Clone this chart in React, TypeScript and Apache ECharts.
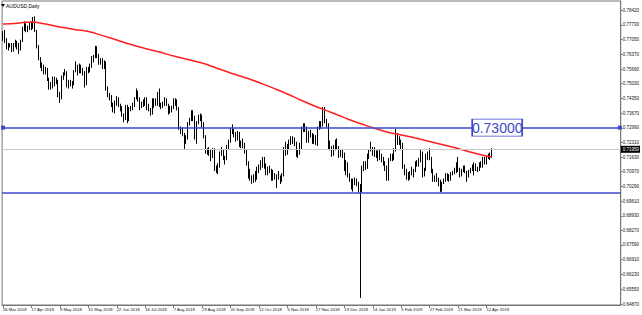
import React, { useEffect, useRef } from "react";
import * as echarts from "echarts";

// ---- data (prices in pips x 1e-4) ----
const opens = [
  7710,7738,7700,7668,7680,7678,7660,7680,7690,7675,
  7660,7700,7755,7770,7750,7755,7775,7765,7790,7745,
  7670,7615,7585,7575,7555,7565,7525,7485,7495,7525,
  7515,7510,7450,7435,7530,7545,7555,7490,7510,7505,
  7500,7560,7580,7560,7585,7560,7550,7500,7570,7565,
  7580,7620,7625,7665,7630,7595,7605,7580,7590,7480,
  7445,7440,7405,7375,7420,7435,7405,7390,7355,7340,
  7400,7335,7385,7392,7403,7435,7460,7425,7400,7410,
  7405,7430,7388,7380,7365,7430,7410,7410,7460,7400,
  7397,7410,7428,7405,7375,7394,7390,7420,7420,7390,
  7293,7285,7270,7235,7250,7320,7340,7370,7340,7255,
  7320,7350,7340,7320,7255,7190,7187,7180,7190,7200,
  7105,7110,7120,7183,7197,7160,7155,7215,7237,7293,
  7290,7265,7245,7273,7215,7227,7225,7190,7135,7085,
  7070,7060,7065,7080,7110,7125,7140,7160,7120,7090,
  7110,7100,7090,7070,7075,7075,7065,7060,7080,7200,
  7180,7215,7240,7255,7240,7230,7170,7180,7210,7300,
  7310,7300,7235,7280,7265,7235,7260,7225,7300,7320,
  7310,7360,7330,7315,7210,7207,7175,7202,7235,7210,
  7170,7195,7175,7110,7130,7085,7058,7020,7055,7050,
  7045,7015,7005,7115,7130,7118,7175,7195,7205,7195,
  7180,7180,7160,7170,7155,7135,7120,7060,7155,7170,
  7165,7195,7270,7240,7240,7225,7125,7100,7090,7065,
  7095,7090,7100,7140,7140,7150,7175,7090,7105,7175,
  7180,7160,7100,7055,7060,7065,7045,7010,7045,7055,
  7065,7075,7065,7085,7095,7110,7135,7100,7080,7105,
  7115,7095,7080,7100,7110,7125,7130,7110,7105,7130,
  7120,7150,7135,7165,7170,7165,
];
const closes = [
  7738,7700,7668,7680,7678,7660,7680,7690,7675,7660,
  7700,7755,7770,7750,7755,7775,7765,7790,7745,7670,
  7615,7585,7575,7555,7565,7525,7485,7495,7525,7515,
  7510,7450,7435,7530,7545,7555,7490,7510,7505,7500,
  7560,7580,7560,7585,7560,7550,7500,7570,7565,7580,
  7620,7625,7665,7630,7595,7605,7580,7590,7480,7445,
  7440,7405,7375,7420,7435,7405,7390,7355,7340,7400,
  7335,7385,7392,7403,7435,7460,7425,7400,7410,7405,
  7430,7388,7380,7365,7430,7410,7410,7460,7400,7397,
  7410,7428,7405,7375,7394,7390,7420,7420,7390,7293,
  7285,7270,7235,7250,7320,7340,7370,7340,7255,7320,
  7350,7340,7320,7255,7190,7187,7180,7190,7200,7105,
  7110,7120,7183,7197,7160,7155,7215,7237,7293,7290,
  7265,7245,7273,7215,7227,7225,7190,7135,7085,7070,
  7060,7065,7080,7110,7125,7140,7160,7120,7090,7110,
  7100,7090,7070,7075,7075,7065,7060,7080,7200,7180,
  7215,7240,7255,7240,7230,7170,7180,7210,7300,7310,
  7300,7235,7280,7265,7235,7260,7225,7300,7320,7310,
  7360,7330,7315,7210,7207,7175,7202,7235,7210,7170,
  7195,7175,7110,7130,7085,7058,7020,7055,7050,7045,
  7015,7005,7115,7130,7118,7175,7195,7205,7195,7180,
  7180,7160,7170,7155,7135,7120,7060,7155,7170,7165,
  7195,7270,7240,7240,7225,7125,7100,7090,7065,7095,
  7090,7100,7140,7140,7150,7175,7090,7105,7175,7180,
  7160,7100,7055,7060,7065,7045,7010,7045,7055,7065,
  7075,7065,7085,7095,7110,7135,7100,7080,7105,7115,
  7095,7080,7100,7110,7125,7130,7110,7105,7130,7120,
  7150,7135,7165,7170,7165,7195,
];
const highs = [
  7745,7750,7712,7690,7688,7690,7690,7705,7700,7690,
  7705,7765,7790,7780,7770,7785,7790,7810,7813,7750,
  7680,7625,7600,7590,7580,7575,7530,7510,7535,7535,
  7530,7520,7465,7540,7555,7570,7560,7520,7520,7515,
  7565,7605,7590,7595,7590,7575,7560,7580,7580,7595,
  7630,7635,7677,7675,7640,7620,7620,7610,7605,7490,
  7460,7450,7415,7425,7445,7440,7410,7400,7365,7405,
  7405,7395,7400,7415,7440,7480,7470,7440,7420,7430,
  7440,7440,7410,7390,7435,7435,7435,7465,7480,7415,
  7420,7440,7435,7410,7400,7400,7435,7435,7430,7395,
  7305,7300,7275,7265,7325,7345,7380,7380,7355,7330,
  7360,7365,7360,7325,7265,7205,7210,7200,7205,7205,
  7125,7135,7190,7210,7200,7170,7220,7245,7300,7315,
  7295,7280,7285,7280,7240,7250,7230,7200,7145,7110,
  7080,7085,7100,7120,7130,7150,7165,7165,7135,7120,
  7125,7110,7105,7090,7085,7100,7080,7090,7210,7235,
  7225,7245,7260,7260,7255,7235,7200,7230,7305,7320,
  7320,7305,7285,7290,7275,7270,7265,7305,7330,7330,
  7395,7395,7340,7320,7240,7215,7220,7245,7250,7215,
  7200,7200,7185,7150,7140,7090,7065,7065,7070,7065,
  7050,7040,7125,7145,7145,7180,7200,7235,7210,7210,
  7195,7195,7200,7180,7165,7145,7125,7160,7180,7180,
  7205,7295,7275,7260,7245,7230,7130,7110,7095,7100,
  7120,7110,7145,7150,7160,7200,7190,7115,7180,7190,
  7205,7165,7110,7080,7090,7070,7060,7050,7065,7090,
  7090,7085,7095,7100,7115,7140,7165,7115,7110,7125,
  7125,7100,7105,7115,7130,7140,7135,7120,7140,7145,
  7165,7165,7170,7180,7185,7205,
];
const lows = [
  7700,7690,7660,7655,7670,7648,7650,7670,7660,7640,
  7655,7695,7745,7740,7740,7750,7750,7755,7740,7665,
  7610,7575,7560,7545,7545,7515,7475,7475,7480,7490,
  7500,7440,7413,7430,7520,7540,7485,7480,7490,7480,
  7495,7555,7540,7550,7550,7540,7485,7495,7550,7555,
  7575,7600,7620,7620,7590,7590,7570,7570,7470,7440,
  7425,7395,7370,7365,7400,7395,7375,7350,7325,7335,
  7320,7330,7375,7380,7395,7430,7420,7380,7390,7395,
  7400,7380,7375,7355,7360,7390,7400,7400,7395,7385,
  7390,7400,7400,7360,7365,7370,7385,7400,7380,7290,
  7270,7260,7202,7225,7245,7310,7330,7330,7245,7225,
  7315,7330,7300,7250,7180,7175,7170,7145,7160,7100,
  7090,7085,7115,7170,7150,7130,7150,7200,7230,7270,
  7255,7235,7240,7210,7205,7205,7180,7125,7065,7055,
  7041,7045,7050,7060,7090,7105,7115,7110,7080,7080,
  7090,7055,7055,7060,7021,7060,7040,7050,7075,7170,
  7175,7200,7220,7225,7215,7165,7160,7175,7200,7280,
  7280,7230,7230,7255,7225,7225,7220,7215,7290,7295,
  7305,7320,7300,7200,7195,7165,7170,7195,7200,7160,
  7165,7160,7100,7080,7070,7050,7015,7005,7035,7030,
  7000,6515,7000,7100,7105,7110,7155,7190,7170,7165,
  7160,7145,7150,7140,7125,7100,7055,7055,7145,7145,
  7150,7190,7220,7220,7200,7110,7080,7060,7055,7060,
  7080,7070,7095,7120,7120,7140,7070,7075,7100,7150,
  7150,7090,7050,7050,7050,7030,7003,7005,7040,7050,
  7055,7050,7055,7080,7085,7090,7095,7070,7075,7095,
  7090,7050,7070,7090,7100,7080,7100,7095,7100,7115,
  7115,7130,7130,7155,7150,7160,
];

// 200-period moving average, read at every 8th bar
const maIndex = [0,8,16,24,32,40,48,56,64,72,80,88,96,104,112,120,128,136,144,152,160,168,176,184,192,200,208,216,224,232,240,248,256,264,272,275];
const maValues = [0.7777,0.7781,0.7787,0.7777,0.7764,0.7752,0.7743,0.7724,0.7704,0.7683,0.7665,0.7648,0.7630,0.7614,0.7598,0.7575,0.7552,0.7531,0.7508,0.7482,0.7455,0.7425,0.7397,0.7372,0.7346,0.7321,0.7300,0.7280,0.7266,0.7252,0.7236,0.7220,0.7204,0.7185,0.7169,0.7164];

const xTickLabels = [
  "26 Mar 2018","17 Apr 2018","9 May 2018","31 May 2018","22 Jun 2018","16 Jul 2018",
  "7 Aug 2018","29 Aug 2018","20 Sep 2018","12 Oct 2018","5 Nov 2018","27 Nov 2018",
  "19 Dec 2018","14 Jan 2019","5 Feb 2019","27 Feb 2019","21 Mar 2019","12 Apr 2019",
];
const yTickValues = [
  0.7842,0.7773,0.7705,0.7637,0.7569,0.7503,0.7435,0.7367,0.7299,0.7231,0.7163,
  0.7097,0.7029,0.6961,0.6893,0.6827,0.6759,0.6691,0.6623,0.6555,0.6487,
];
const resistance = 0.73;
const support = 0.7012;

const SLOTS = 348;
const LABEL_STEP = 16;
const BLUE = "#3d48c9";

export default function App() {
  const ref = useRef<HTMLDivElement>(null);
  useEffect(() => {
    if (!ref.current) return;
    const chart = echarts.init(ref.current, null, { renderer: "svg" });
    const categories = Array.from({ length: SLOTS }, (_, i) =>
      i % LABEL_STEP === 0 && i / LABEL_STEP < xTickLabels.length ? xTickLabels[i / LABEL_STEP] : "s" + i
    );
    const isTick = (i: number) => i % LABEL_STEP === 0 && i / LABEL_STEP < xTickLabels.length;
    const candles = opens.map((o, i) => [o / 1e4, closes[i] / 1e4, lows[i] / 1e4, highs[i] / 1e4]);
    const lastClose = closes[closes.length - 1] / 1e4;
    const ma = maIndex.map((x, i) => [x, maValues[i]]);

    chart.setOption({
      animation: false,
      backgroundColor: "#ffffff",
      grid: { left: 1, right: 21, top: 1, bottom: 10, show: true, borderColor: "#777", borderWidth: 1 },
      xAxis: {
        type: "category",
        data: categories,
        boundaryGap: true,
        axisLine: { show: true, lineStyle: { color: "#777", width: 1 } },
        axisTick: { show: true, alignWithLabel: true, interval: (i: number) => isTick(i), length: 3, lineStyle: { color: "#777" } },
        axisLabel: {
          interval: (i: number) => isTick(i),
          formatter: (v: string) => (v.startsWith("s") ? "" : v),
          fontSize: 4.2,
          color: "#111",
          align: "left",
          margin: 2.5,
          showMinLabel: true,
          hideOverlap: false,
          fontFamily: "Liberation Sans",
        },
        splitLine: { show: false },
      },
      yAxis: {
        type: "value",
        position: "right",
        min: 0.64824,
        max: 0.78835,
        axisLine: { show: true, lineStyle: { color: "#777", width: 1 } },
        axisTick: { show: true, customValues: yTickValues, length: 2, lineStyle: { color: "#777" } },
        axisLabel: {
          customValues: yTickValues,
          formatter: (v: number) => v.toFixed(5),
          fontSize: 4.5,
          color: "#111",
          margin: 2,
          fontFamily: "Liberation Sans",
        },
        splitLine: { show: false },
      },
      graphic: [
        { type: "polygon", shape: { points: [[1, 4], [5, 4], [3, 7]] }, style: { fill: "#000" } },
        { type: "text", x: 6, y: 3, style: { text: "AUDUSD,Daily", fontSize: 5, fill: "#000", fontFamily: "Liberation Sans" } },
      ],
      series: [
        {
          type: "candlestick",
          data: candles,
          barWidth: 1,
          clip: true,
          itemStyle: { color: "#ffffff", color0: "#000000", borderColor: "#000000", borderColor0: "#000000", borderWidth: 1 },
          markLine: {
            silent: true,
            symbol: "none",
            animation: false,
            data: [
              {
                yAxis: lastClose,
                lineStyle: { color: "#c8c8c8", width: 1, type: "solid" },
                label: {
                  show: true,
                  position: "end",
                  distance: 0,
                  formatter: () => lastClose.toFixed(5),
                  backgroundColor: "#000",
                  color: "#fff",
                  fontSize: 4.5,
                  padding: [1, 1, 1, 2],
                  fontFamily: "Liberation Sans",
                },
              },
              { yAxis: resistance, lineStyle: { color: BLUE, width: 1.5, type: "solid" }, label: { show: false } },
              { yAxis: support, lineStyle: { color: BLUE, width: 1.5, type: "solid" }, label: { show: false } },
            ],
          },
          markPoint: {
            silent: true,
            animation: false,
            data: [
              {
                coord: [278, resistance],
                symbol: "rect",
                symbolSize: [50, 17],
                itemStyle: { color: "#ffffff", borderColor: BLUE, borderWidth: 1 },
                label: { show: true, position: "inside", formatter: "0.73000", color: BLUE, fontSize: 14, fontFamily: "Liberation Sans" },
              },
              { coord: [0, resistance], symbol: "rect", symbolSize: 4, itemStyle: { color: BLUE }, label: { show: false } },
              { coord: [SLOTS - 1, resistance], symbol: "rect", symbolSize: 4, itemStyle: { color: BLUE }, label: { show: false } },
            ],
          },
        },
        {
          type: "line",
          data: ma,
          smooth: 0.4,
          showSymbol: false,
          z: 3,
          lineStyle: { color: "#ff1f1f", width: 1.5 },
        },
      ],
    });
    return () => chart.dispose();
  }, []);
  return <div ref={ref} style={{ position: "fixed", left: 0, top: 0, width: 642, height: 315, background: "#fff" }} />;
}
